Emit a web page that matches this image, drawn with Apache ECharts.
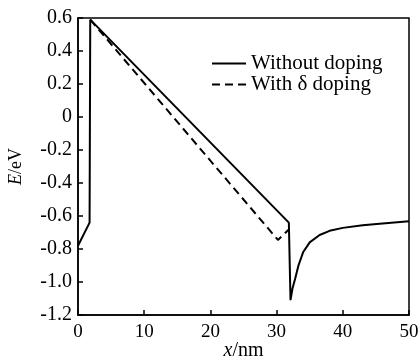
<!DOCTYPE html>
<html><head><meta charset="utf-8">
<script src="https://cdn.jsdelivr.net/npm/echarts@6/dist/echarts.min.js"></script>
<style>html,body{margin:0;padding:0;background:#fff}#c{width:420px;height:364px}</style>
</head><body><div id="c"></div>
<script>
var xTicks = [0, 10, 20, 30, 40, 50];
var yTicks = [-1.2, -1.0, -0.8, -0.6, -0.4, -0.2, 0, 0.2, 0.4, 0.6];
var seriesNames = ['Without doping', 'With \u03b4 doping'];
var xSolid = [0, 1.75, 1.85, 31.85, 32.1, 32.4, 32.8, 33.3, 34.0, 35.0, 36.5, 38.0, 40.0, 43.0, 46.0, 50.0];
var ySolid = [-0.78, -0.64, 0.59, -0.64, -1.11, -1.04, -0.98, -0.90, -0.82, -0.76, -0.715, -0.69, -0.672, -0.656, -0.645, -0.632];
var xDash = [1.85, 30.2, 31.9];
var yDash = [0.59, -0.745, -0.68];

function pairs(xs, ys){ return xs.map(function(x,i){return [x, ys[i]];}); }
var font = 'Liberation Serif';
var chart = echarts.init(document.getElementById('c'));
chart.setOption({
  animation:false,
  grid:{left:78, right:11, top:18, bottom:49, outerBoundsMode:'none', containLabel:false,
        show:true, borderColor:'#000', borderWidth:1.5, backgroundColor:'transparent'},
  legend:{
    orient:'vertical', left:206, top:48, itemGap:0, itemWidth:34, itemHeight:14,
    data: seriesNames,
    itemStyle:{opacity:0},
    textStyle:{fontFamily:font, fontSize:21, color:'#000'}
  },
  xAxis:{
    type:'value', min:xTicks[0], max:xTicks[xTicks.length-1], interval:10,
    axisLine:{onZero:false, lineStyle:{color:'#000', width:1.5}},
    axisTick:{inside:true, length:5, lineStyle:{color:'#000', width:1.5}},
    splitLine:{show:false},
    axisLabel:{fontFamily:font, fontSize:19, color:'#000', margin:8},
    name:'{i|x}/nm', nameLocation:'middle', nameGap:26, nameMoveOverlap:false,
    nameTextStyle:{fontFamily:font, fontSize:20, color:'#000',
      rich:{i:{fontFamily:font, fontStyle:'italic', fontSize:20, color:'#000'}}}
  },
  yAxis:{
    type:'value', min:yTicks[0], max:yTicks[yTicks.length-1], interval:0.2,
    axisLine:{onZero:false, lineStyle:{color:'#000', width:1.5}},
    axisTick:{inside:true, length:5, lineStyle:{color:'#000', width:1.5}},
    splitLine:{show:false},
    axisLabel:{fontFamily:font, fontSize:20, color:'#000', margin:6,
      formatter:function(v){ return Math.abs(v)<1e-9 ? '0' : v.toFixed(1); }},
    name:'{i|E}/eV', nameLocation:'middle', nameGap:53, nameRotate:90, nameMoveOverlap:false,
    nameTextStyle:{fontFamily:font, fontSize:18, color:'#000',
      rich:{i:{fontFamily:font, fontStyle:'italic', fontSize:18, color:'#000'}}}
  },
  series:[
    {name:seriesNames[0], type:'line', data:pairs(xSolid, ySolid), showSymbol:false, symbol:'none',
     lineStyle:{color:'#000', width:2}, itemStyle:{color:'#000'}},
    {name:seriesNames[1], type:'line', data:pairs(xDash, yDash), showSymbol:false, symbol:'none',
     lineStyle:{color:'#000', width:2, type:[8,5]}, itemStyle:{color:'#000'}}
  ]
});
</script></body></html>
